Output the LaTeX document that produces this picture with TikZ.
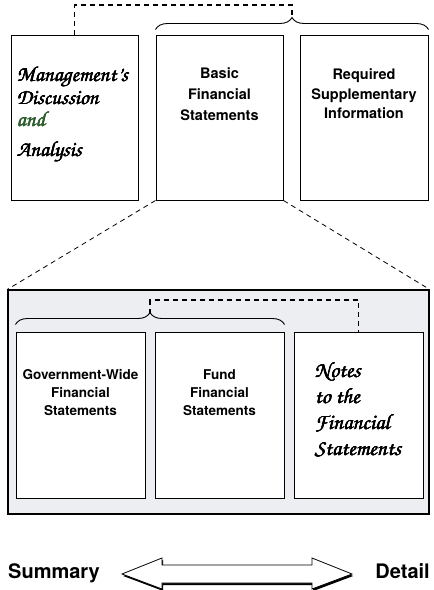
\documentclass[tikz,border=0pt]{standalone}
\usepackage{fontspec}
\setsansfont{TeX Gyre Heros}
\usetikzlibrary{positioning,decorations.pathreplacing}
\definecolor{panel}{HTML}{EDEEF2}
\definecolor{andgreen}{HTML}{2E5E2E}
\newcommand{\scriptface}{\fontencoding{OT1}\fontfamily{pzc}\fontseries{mb}\fontshape{it}\selectfont}
\newcommand{\inked}[1]{\rlap{\kern0.4pt#1}\rlap{\raisebox{0.35pt}{#1}}\rlap{\kern0.2pt\raisebox{-0.2pt}{#1}}#1}
\begin{document}
\begin{tikzpicture}[x=1pt,y=-1pt,
	box/.style={draw,line width=1pt,fill=white,minimum width=128pt,minimum height=165pt,inner sep=0pt},
	heading/.style={font=\sffamily\bfseries\fontsize{14.5}{21}\selectfont,align=center,inner sep=0pt},
	handwrite/.style={font=\scriptface\fontsize{21.5}{23}\selectfont,align=left,inner sep=0pt},
	link/.style={line width=1.2pt,dash pattern=on 5pt off 4pt},
	zoomline/.style={line width=0.8pt,dash pattern=on 5pt off 4pt},
	brace/.style={decorate,decoration={brace,amplitude=12pt},line width=0.9pt}]
	\useasboundingbox (0,0) rectangle (434,590);
	\node[box,minimum width=127pt] (mda) at (74.5,117.5) {};
	\node[box,minimum width=127pt] (bfs) at (219.5,117.5) {};
	\node[box] (rsi) at (364,117.5) {};
	\node[handwrite,anchor=north west,below right=31pt and 6pt of mda.north west] (mdatext) {\inked{Management's}\\\inked{Discussion}\\[-1pt]\inked{\color{andgreen}and}\\[7pt]\inked{Analysis}};
	\node[heading,below=33pt of bfs.north] (bfstext) {Basic\\Financial\\Statements};
	\node[heading,font=\sffamily\bfseries\fontsize{14.5}{19.5}\selectfont,below=34pt of rsi.north] (rsitext) {Required\\Supplementary\\Information};
	\coordinate (toprail) at (0,5);
	\draw[brace] ([yshift=5pt]bfs.north west) -- ([yshift=5pt]rsi.north east) node[midway,coordinate,above=12pt] (toptip) {};
	\draw[link] (mda.north) -- (mda.north |- toprail) -| (toptip);
	\node[draw,line width=1.2pt,fill=panel,minimum width=421pt,minimum height=224pt,inner sep=0pt] (panel) at (218.5,402) {};
	\draw[zoomline] (bfs.south west) -- (panel.north west);
	\draw[zoomline] (bfs.south east) -- (panel.north east);
	\node[box,minimum width=129pt,minimum height=166pt] (gw) at (80.5,415) {};
	\node[box,minimum width=129pt,minimum height=166pt] (fund) at (219.5,415) {};
	\node[box,minimum width=129pt,minimum height=166pt] (notes) at (358.5,415) {};
	\node[heading,font=\sffamily\bfseries\fontsize{13.5}{18}\selectfont,below=38pt of gw.north] (gwtext) {Government-Wide\\Financial\\Statements};
	\node[heading,font=\sffamily\bfseries\fontsize{13.5}{18}\selectfont,below=38pt of fund.north] (fundtext) {Fund\\Financial\\Statements};
	\node[handwrite,font=\scriptface\fontsize{22}{26}\selectfont,anchor=north west,below right=30pt and 21pt of notes.north west] (notestext) {\inked{Notes}\\\inked{to the}\\\inked{Financial}\\\inked{Statements}};
	\coordinate (innerrail) at (0,300);
	\draw[brace] ([yshift=7pt]gw.north west) -- ([yshift=7pt]fund.north east) node[midway,coordinate,above=11pt] (innertip) {};
	\draw[link] (innertip) -- (innertip |- innerrail) -| (notes.north);
	\fill[shift={(1.2,2)}] (122,574) -- (162,558) -- (162,565) -- (312,565) -- (312,558) -- (352,574) -- (312,589) -- (312,583) -- (162,583) -- (162,589) -- cycle;
	\filldraw[fill=white,line width=0.8pt,line join=miter] (122,574) -- (162,558) -- (162,565) -- (312,565) -- (312,558) -- (352,574) -- (312,589) -- (312,583) -- (162,583) -- (162,589) -- cycle;
	\node[font=\sffamily\bfseries\fontsize{20}{24}\selectfont,anchor=base west,inner sep=0pt] (summary) at (8,578) {Summary};
	\node[font=\sffamily\bfseries\fontsize{20}{24}\selectfont,anchor=base east,inner sep=0pt] (detail) at (430,578) {Detail};
\end{tikzpicture}
\end{document}
